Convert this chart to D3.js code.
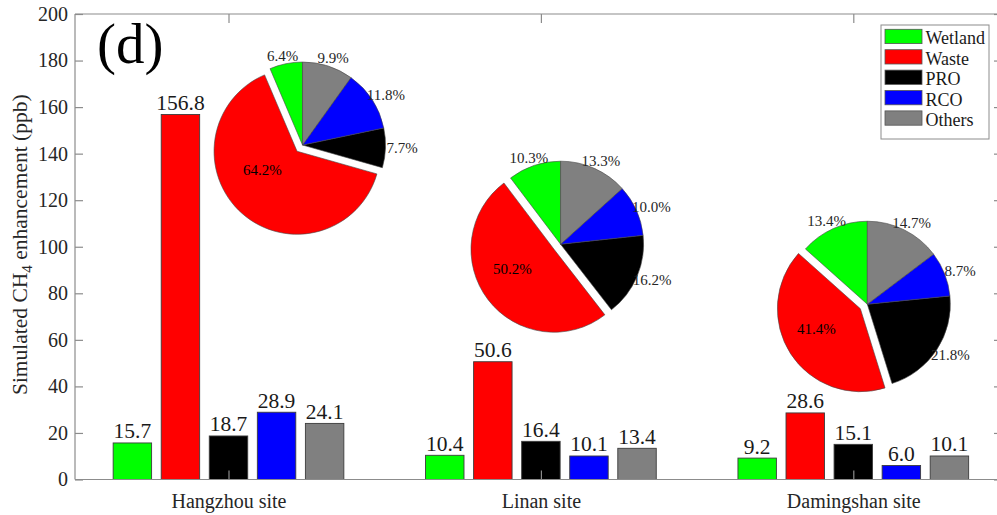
<!DOCTYPE html>
<html>
<head>
<meta charset="utf-8">
<script src="https://cdn.jsdelivr.net/npm/d3@7"></script>
<style>
  html, body { margin: 0; padding: 0; background: #fff; }
  svg { display: block; }
</style>
</head>
<body>
<svg id="chart" width="997" height="515"></svg>
<script>
// ---- data ---------------------------------------------------------------
const categories = ["Hangzhou site", "Linan site", "Damingshan site"];
const sources = ["Wetland", "Waste", "PRO", "RCO", "Others"];

// simulated CH4 enhancement (ppb) per source, one value per site
const wetland = [15.7, 10.4, 9.2];
const waste   = [156.8, 50.6, 28.6];
const pro     = [18.7, 16.4, 15.1];
const rco     = [28.9, 10.1, 6.0];
const others  = [24.1, 13.4, 10.1];

// source shares (%) at each site, in legend order
const sharesHangzhou   = [6.4, 64.2, 7.7, 11.8, 9.9];
const sharesLinan      = [10.3, 50.2, 16.2, 10.0, 13.3];
const sharesDamingshan = [13.4, 41.4, 21.8, 8.7, 14.7];

const yTicks = [0, 20, 40, 60, 80, 100, 120, 140, 160, 180, 200];

// ---- styling / layout ---------------------------------------------------
const serif = "'Liberation Serif', Tinos, 'Times New Roman', Times, 'Nimbus Roman', 'DejaVu Serif', serif";
const colors = ["#00ff00", "#ff0000", "#000000", "#0000ff", "#808080"];
const axisColor = "#8c8c8c";
const textColor = "#262626";
const W = 997, H = 515;
const plot = { left: 75, right: 1002, top: 14, bottom: 479.5 };

const svg = d3.select("#chart");
svg.append("rect").attr("width", W).attr("height", H).attr("fill", "#fff");

// group positions 1..3 along x
const x = d3.scaleLinear().domain([1, 3]).range([228.5, 853.3]);
const y = d3.scaleLinear().domain([0, 200]).range([plot.bottom, plot.top]);

const seriesValues = [wetland, waste, pro, rco, others];
const nSeries = sources.length;
const groupWidth = Math.min(0.8, nSeries / (nSeries + 1.5));
const slot = groupWidth / nSeries;
const barW = x(1 + slot * 0.8) - x(1);

// ---- bars ---------------------------------------------------------------
const barData = [];
seriesValues.forEach((vals, j) => {
  vals.forEach((v, i) => {
    barData.push({ site: i, series: j, value: v,
      pos: i + 1 + (j - (nSeries - 1) / 2) * slot });
  });
});

svg.append("g").selectAll("rect").data(barData).join("rect")
  .attr("x", d => x(d.pos) - barW / 2)
  .attr("y", d => y(d.value))
  .attr("width", barW)
  .attr("height", d => y(0) - y(d.value))
  .attr("fill", d => colors[d.series])
  .attr("stroke", "#3c3c3c")
  .attr("stroke-width", 0.9);

svg.append("g").selectAll("text").data(barData).join("text")
  .attr("x", d => x(d.pos))
  .attr("y", d => y(d.value) - 4.5)
  .attr("text-anchor", "middle")
  .style("font-family", serif)
  .style("font-size", "21.5px")
  .attr("fill", "#1a1a1a")
  .text(d => d.value.toFixed(1));

// ---- axes box -----------------------------------------------------------
const axes = svg.append("g");
axes.append("line").attr("x1", plot.left).attr("x2", plot.right)
  .attr("y1", plot.bottom).attr("y2", plot.bottom);
axes.append("line").attr("x1", plot.left).attr("x2", plot.right)
  .attr("y1", plot.top).attr("y2", plot.top);
axes.append("line").attr("x1", plot.left).attr("x2", plot.left)
  .attr("y1", plot.top).attr("y2", plot.bottom);
axes.append("line").attr("x1", plot.right).attr("x2", plot.right)
  .attr("y1", plot.top).attr("y2", plot.bottom);
axes.selectAll("line").attr("stroke", axisColor).attr("stroke-width", 1.2);

// left axis with inward ticks
const yAxis = svg.append("g")
  .attr("transform", `translate(${plot.left},0)`)
  .call(d3.axisLeft(y).tickValues(yTicks).tickSizeInner(-8).tickSizeOuter(0).tickPadding(7));
yAxis.select(".domain").remove();
yAxis.selectAll(".tick line").attr("stroke", axisColor).attr("stroke-width", 1.2);
yAxis.selectAll(".tick text")
  .style("font-family", serif).style("font-size", "20px").attr("fill", textColor);

// right axis ticks (mirrored)
const yAxisR = svg.append("g")
  .attr("transform", `translate(${plot.right},0)`)
  .call(d3.axisRight(y).tickValues(yTicks).tickSizeInner(-8).tickSizeOuter(0).tickFormat(""));
yAxisR.select(".domain").remove();
yAxisR.selectAll(".tick line").attr("stroke", axisColor).attr("stroke-width", 1.2);

// bottom axis: inward ticks + category names
const xAxis = svg.append("g")
  .attr("transform", `translate(0,${plot.bottom})`)
  .call(d3.axisBottom(x).tickValues([1, 2, 3]).tickSizeInner(-9).tickSizeOuter(0)
    .tickPadding(14).tickFormat((d, i) => categories[i]));
xAxis.select(".domain").remove();
xAxis.selectAll(".tick line").attr("stroke", axisColor).attr("stroke-width", 1.2);
xAxis.selectAll(".tick text")
  .style("font-family", serif).style("font-size", "20px").attr("fill", textColor);

// top axis: inward ticks only
const xAxisT = svg.append("g")
  .attr("transform", `translate(0,${plot.top})`)
  .call(d3.axisTop(x).tickValues([1, 2, 3]).tickSizeInner(-9).tickSizeOuter(0).tickFormat(""));
xAxisT.select(".domain").remove();
xAxisT.selectAll(".tick line").attr("stroke", axisColor).attr("stroke-width", 1.2);

// y-axis title with subscript
const yTitle = svg.append("text")
  .attr("transform", `translate(27,${(plot.top + plot.bottom) / 2 - 2}) rotate(-90)`)
  .attr("text-anchor", "middle")
  .style("font-family", serif)
  .style("font-size", "21.5px")
  .attr("fill", textColor);
yTitle.append("tspan").text("Simulated CH");
yTitle.append("tspan").style("font-size", "15px").attr("dy", "5").text("4");
yTitle.append("tspan").attr("dy", "-5").text(" enhancement (ppb)");

// panel tag
svg.append("text")
  .attr("x", 97).attr("y", 63)
  .style("font-family", serif)
  .style("font-size", "57px")
  .attr("fill", "#000")
  .text("(d)");

// ---- pie insets ---------------------------------------------------------
// centres given in chart units so they go through the same scales
const pieSets = [
  { shares: sharesHangzhou,   at: [1.237, 143.7] },
  { shares: sharesLinan,      at: [2.063, 101.1] },
  { shares: sharesDamingshan, at: [3.045, 75.3] }
];
const pieR = 83;
const explodeIdx = 1;            // waste slice pulled out
const arc = d3.arc().innerRadius(0).outerRadius(pieR);

pieSets.forEach(set => {
  const cx = x(set.at[0]), cy = y(set.at[1]);
  const total = d3.sum(set.shares);
  // slices run counter-clockwise from 12 o'clock, in legend order
  const cum = d3.cumsum(set.shares).map(v => v / total);
  const slices = set.shares.map((v, i) => {
    const c0 = i === 0 ? 0 : cum[i - 1];
    const c1 = cum[i];
    return {
      i, value: v,
      startAngle: 2 * Math.PI * (1 - c1),
      endAngle: 2 * Math.PI * (1 - c0)
    };
  });
  const g = svg.append("g").attr("transform", `translate(${cx},${cy})`);
  g.selectAll("path").data(slices).join("path")
    .attr("transform", d => {
      if (d.i !== explodeIdx) return null;
      const a = (d.startAngle + d.endAngle) / 2;
      return `translate(${0.1 * pieR * Math.sin(a)},${-0.1 * pieR * Math.cos(a)})`;
    })
    .attr("d", arc)
    .attr("fill", d => colors[d.i])
    .attr("stroke", "#444")
    .attr("stroke-width", 0.6);

  g.selectAll("text").data(slices).join("text")
    .attr("x", d => {
      const a = (d.startAngle + d.endAngle) / 2;
      return d.i === explodeIdx ? 0.73 * pieR * Math.sin(a) : 1.2 * pieR * Math.sin(a);
    })
    .attr("y", d => {
      const a = (d.startAngle + d.endAngle) / 2;
      return d.i === explodeIdx ? 0.3 * pieR : -1.1 * pieR * Math.cos(a);
    })
    .attr("dy", "0.35em")
    .attr("text-anchor", "middle")
    .style("font-family", serif)
    .style("font-size", "15px")
    .attr("fill", d => d.i === explodeIdx ? "#000" : textColor)
    .text(d => d.value.toFixed(1) + "%");
});

// ---- legend -------------------------------------------------------------
const lg = svg.append("g").attr("transform", "translate(881,25)");
lg.append("rect").attr("width", 108).attr("height", 114)
  .attr("fill", "#fff").attr("stroke", "#8c8c8c").attr("stroke-width", 1);
const items = lg.selectAll("g").data(sources).join("g")
  .attr("transform", (d, i) => `translate(4,${4.3 + i * 20.4})`);
items.append("rect").attr("width", 37).attr("height", 14.3)
  .attr("fill", (d, i) => colors[i]).attr("stroke", "#555").attr("stroke-width", 0.8);
items.append("text").attr("x", 40.5).attr("y", 15)
  .style("font-family", serif)
  .style("font-size", "18px").attr("fill", "#1a1a1a")
  .text(d => d);
</script>
</body>
</html>
